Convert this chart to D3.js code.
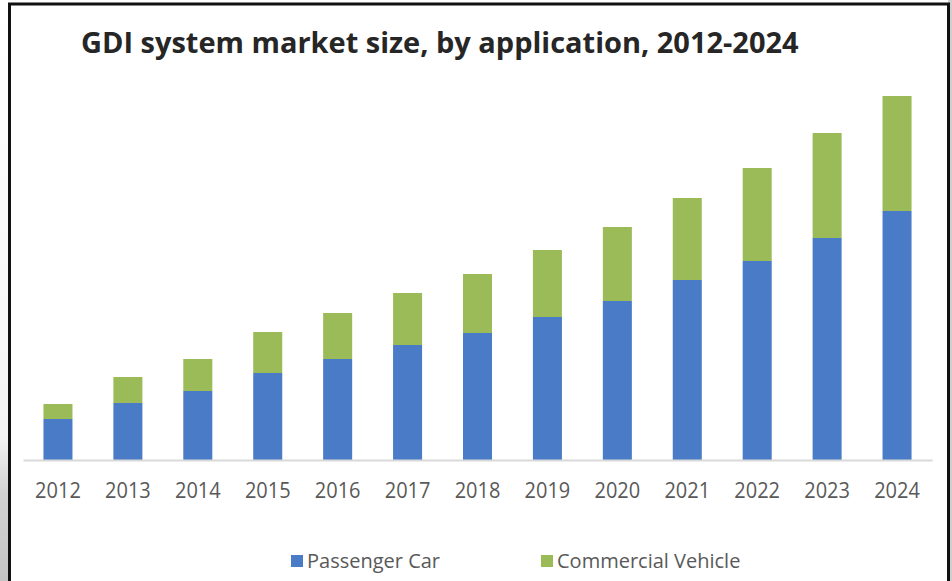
<!DOCTYPE html>
<meta charset="utf-8">
<head>
  <style>
    body {
      margin: 0;
      background: #fff;
      overflow: hidden;
    }
    svg {
      display: block;
    }
    .tick-label {
      font-family: "Open Sans", sans-serif;
      fill: #595959;
    }
    .legend text {
      font-family: "Open Sans", sans-serif;
      fill: #595959;
    }
  </style>
</head>
<body>
  <script src="https://d3js.org/d3.v7.min.js"></script>
  <script>
    // values (arbitrary units, no value axis shown)
    const years = ["2012", "2013", "2014", "2015", "2016", "2017", "2018",
                   "2019", "2020", "2021", "2022", "2023", "2024"];
    const passengerCar = [41, 57, 69, 87, 101, 115, 127, 143, 159, 180, 199, 222, 249];
    const commercialVehicle = [15, 26, 32, 41, 46, 52, 59, 67, 74, 82, 93, 105, 115];
    const seriesNames = ["Passenger Car", "Commercial Vehicle"];
    const seriesColors = ["#4a7bc6", "#9bbb59"];
    const title = "GDI system market size, by application, 2012-2024";

    const width = 952, height = 581;

    const svg = d3.select("body")
      .append("svg")
      .attr("width", width)
      .attr("height", height);

    // screenshot surroundings: grey strip on the left and right
    const defs = svg.append("defs");
    const grad = defs.append("linearGradient")
      .attr("id", "sideGrad")
      .attr("x1", 0).attr("y1", 0).attr("x2", 0).attr("y2", 1);
    grad.append("stop").attr("offset", "0%").attr("stop-color", "#ffffff");
    grad.append("stop").attr("offset", "75%").attr("stop-color", "#f4f4f4");
    grad.append("stop").attr("offset", "85%").attr("stop-color", "#d2d2d2");
    grad.append("stop").attr("offset", "100%").attr("stop-color", "#c4c4c4");

    svg.append("rect")
      .attr("x", 0).attr("y", 0)
      .attr("width", 9).attr("height", height)
      .attr("fill", "url(#sideGrad)");
    svg.append("rect")
      .attr("x", 948).attr("y", 0)
      .attr("width", 4).attr("height", height)
      .attr("fill", "#cfcfcf");

    // frame of the pasted chart
    svg.append("path")
      .attr("d", `M9.5,${height + 5} V4 H948.5 V${height + 5}`)
      .attr("fill", "none")
      .attr("stroke", "#111")
      .attr("stroke-width", 3);

    // title, fitted to the width it has in the picture
    const titleText = svg.append("text")
      .attr("x", 81)
      .attr("y", 53)
      .style("font-family", "'Open Sans', sans-serif")
      .style("font-weight", 700)
      .style("font-size", "26px")
      .style("fill", "#262626")
      .text(title);
    const tw = titleText.node().getComputedTextLength();
    titleText.style("font-size", (26 * 718 / tw).toFixed(2) + "px");

    const baseY = 460;

    const x = d3.scaleBand()
      .domain(years)
      .range([23, 932])
      .paddingInner(0.585)
      .paddingOuter(0.2925);

    const y = d3.scaleLinear()
      .domain([0, 400])
      .range([baseY, baseY - 400]);

    const rows = years.map((yr, i) => ({
      year: yr,
      "Passenger Car": passengerCar[i],
      "Commercial Vehicle": commercialVehicle[i]
    }));

    const stack = d3.stack().keys(seriesNames);
    const layers = stack(rows);

    svg.append("g")
      .selectAll("g")
      .data(layers)
      .join("g")
      .attr("fill", (d, i) => seriesColors[i])
      .selectAll("rect")
      .data(d => d)
      .join("rect")
      .attr("x", d => x(d.data.year))
      .attr("y", d => y(d[1]))
      .attr("width", x.bandwidth())
      .attr("height", d => y(d[0]) - y(d[1]));

    // category axis
    const xAxis = svg.append("g")
      .attr("transform", `translate(0,${baseY})`)
      .call(d3.axisBottom(x).tickSize(0).tickPadding(20));
    xAxis.select(".domain")
      .attr("stroke", "#d9d9d9")
      .attr("stroke-width", 2);
    xAxis.selectAll("text")
      .attr("class", "tick-label")
      .attr("font-family", null)
      .attr("font-size", null)
      .style("font-size", "20px")
      .attr("transform", "scale(1,1.12)");

    // legend
    const legendX = [291, 541];
    const legend = svg.append("g").attr("class", "legend");
    seriesNames.forEach((name, i) => {
      const g = legend.append("g")
        .attr("transform", `translate(${legendX[i]},555)`);
      g.append("rect")
        .attr("width", 12)
        .attr("height", 12)
        .attr("fill", seriesColors[i]);
      g.append("text")
        .attr("x", 16)
        .attr("y", 13)
        .style("font-size", "20px")
        .text(name);
    });
  </script>
</body>
